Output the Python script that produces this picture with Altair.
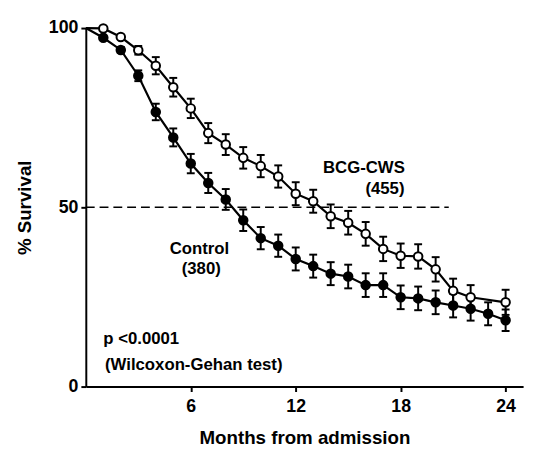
import altair as alt
import pandas as pd

# ---- data ----
months_control = list(range(1, 25))
control_pct = [97.3, 93.9, 86.7, 76.6, 69.5, 62.2, 56.8, 52.2, 46.4, 41.4, 39.3, 35.6,
               33.6, 31.5, 30.7, 28.3, 28.3, 24.9, 24.6, 23.5, 22.6, 21.7, 20.3, 18.5]
control_err = [0, 0.8, 1.5, 2.3, 2.5, 2.7, 2.8, 2.9, 3.0, 3.1, 3.1, 3.2,
               3.2, 3.2, 3.3, 3.3, 3.3, 3.3, 3.3, 3.3, 3.3, 3.3, 3.2, 3.0]

months_bcg = list(range(1, 23)) + [24]
bcg_pct = [99.9, 97.5, 93.8, 89.5, 83.5, 77.6, 70.7, 67.5, 63.8, 61.5, 58.6, 53.8,
           51.7, 47.5, 45.7, 42.6, 38.4, 36.5, 36.3, 32.7, 26.7, 24.9, 23.5]
bcg_err = [0, 0.5, 1.2, 2.4, 2.6, 2.7, 2.8, 2.9, 3.0, 3.1, 3.1, 3.2,
           3.2, 3.3, 3.3, 3.3, 3.4, 3.4, 3.4, 3.4, 3.4, 3.4, 3.5]

groups = ["Control", "BCG-CWS"]
x_ticks = [6, 12, 18, 24]
y_ticks = [0, 50, 100]
median_line = {"x0": 0, "x1": 20.75, "y": 50}

ann_text = ["BCG-CWS", "(455)", "Control", "(380)", "p <0.0001", "(Wilcoxon-Gehan test)"]
ann_x = [15.9, 17.1, 6.5, 6.6, 1.0, 1.1]
ann_y = [61.0, 55.2, 38.4, 32.9, 13.2, 6.0]
ann_align = ["center", "center", "center", "center", "left", "left"]

# ---- tables ----
rows = []
for m, v, e in zip(months_control, control_pct, control_err):
    rows.append(dict(month=m, pct=v, err=e, lo=v - e, hi=v + e, group="Control"))
for m, v, e in zip(months_bcg, bcg_pct, bcg_err):
    rows.append(dict(month=m, pct=v, err=e, lo=v - e, hi=v + e, group="BCG-CWS"))
pts = pd.DataFrame(rows)
start = pd.DataFrame({"month": [0, 0], "pct": [100, 100], "group": groups})
line_df = pd.concat([start, pts[["month", "pct", "group"]]], ignore_index=True)
err_df = pts[pts["err"] > 0]
ann_df = pd.DataFrame({"x": ann_x, "y": ann_y, "text": ann_text, "align": ann_align})
dash_df = pd.DataFrame([median_line])

FONT = "Liberation Sans"

xscale = alt.Scale(domain=[0, 25], nice=False, zero=False)
yscale = alt.Scale(domain=[0, 100], nice=False)
X = alt.X("month:Q", scale=xscale,
          axis=alt.Axis(values=x_ticks, title="Months from admission", format="d"))
Y = alt.Y("pct:Q", scale=yscale,
          axis=alt.Axis(values=y_ticks, title="% Survival", format="d"))

dash = alt.Chart(dash_df).mark_rule(color="black", strokeWidth=1.6, strokeDash=[9, 5], opacity=1).encode(
    x=alt.X("x0:Q", scale=xscale), x2="x1:Q", y=alt.Y("y:Q", scale=yscale))

lines = alt.Chart(line_df).mark_line(color="black", strokeWidth=2.2, opacity=1).encode(
    x=X, y=Y, detail="group:N", order="month:Q")

bars = alt.Chart(err_df).mark_rule(color="black", strokeWidth=2, opacity=1).encode(
    x=X, y=alt.Y("lo:Q", scale=yscale), y2="hi:Q")

caps = alt.Chart(err_df).transform_fold(["lo", "hi"], as_=["k", "v"]).mark_tick(
    color="black", orient="horizontal", size=8, thickness=2, opacity=1).encode(
    x=X, y=alt.Y("v:Q", scale=yscale))

points = alt.Chart(pts).mark_point(shape="circle", size=75, strokeWidth=2,
                                   stroke="black", filled=False, opacity=1, fillOpacity=1).encode(
    x=X, y=Y,
    fill=alt.Fill("group:N", scale=alt.Scale(domain=groups, range=["black", "white"]), legend=None))

texts = []
for al in ["center", "left"]:
    texts.append(alt.Chart(ann_df[ann_df["align"] == al]).mark_text(
        align=al, baseline="middle", font=FONT, fontSize=17, fontWeight="bold", color="black").encode(
        x=alt.X("x:Q", scale=xscale), y=alt.Y("y:Q", scale=yscale), text="text:N"))

chart = alt.layer(dash, lines, bars, caps, points, *texts).properties(
    width=444, height=364,
    autosize=alt.AutoSizeParams(type="none"),
    padding={"left": 79, "top": 17, "right": 7, "bottom": 60},
    background="white",
).configure_view(stroke=None).configure_axis(
    grid=False, domainColor="black", domainWidth=2, tickColor="black", tickWidth=2, tickSize=5,
    labelFont=FONT, labelFontSize=18, labelFontWeight="bold", labelColor="black",
    titleFont=FONT, titleFontSize=19, titleFontWeight="bold", titleColor="black",
).configure_axisX(labelPadding=6, titlePadding=14).configure_axisY(labelPadding=3, titlePadding=14)

chart.save("out.html", embed_options={"renderer": "svg", "actions": False})
